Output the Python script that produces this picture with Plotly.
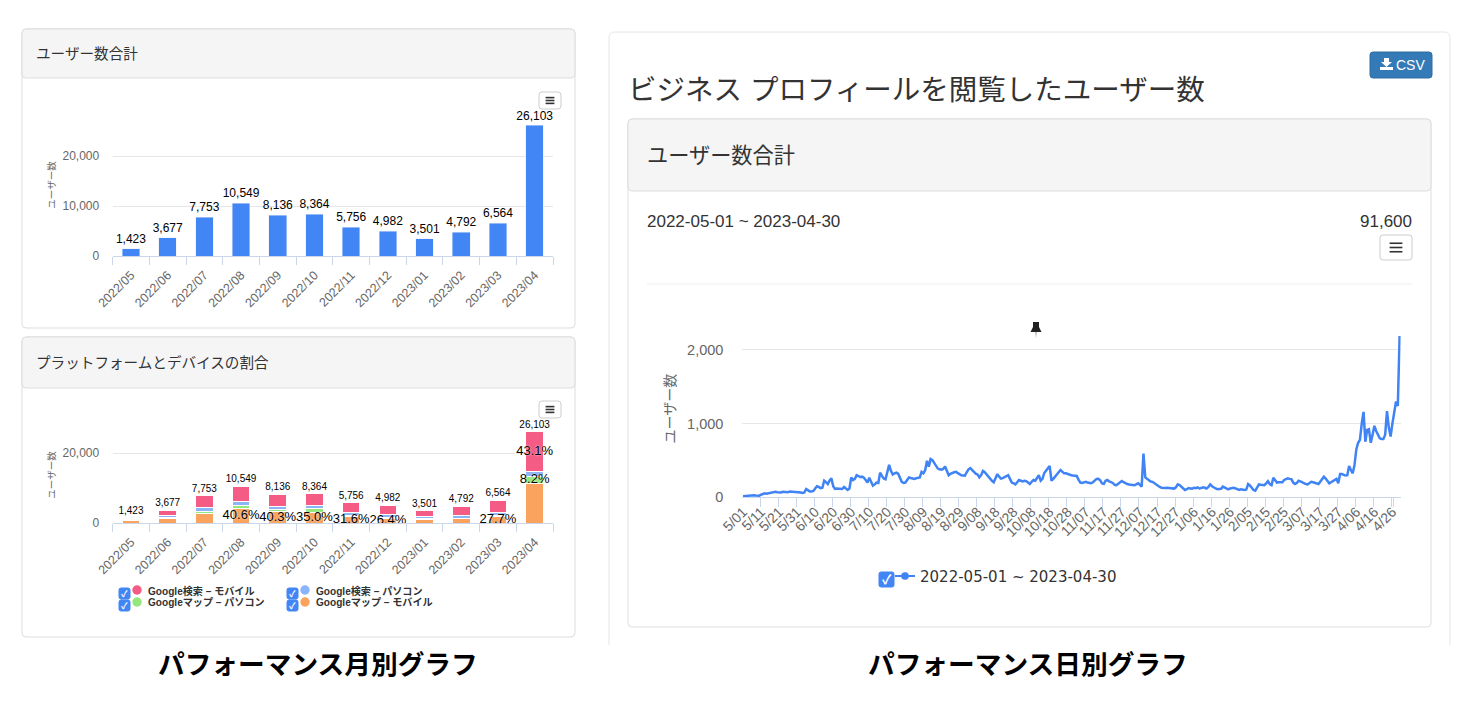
import pandas as pd
import plotly.graph_objects as go

W, H = 1478, 701
FONT = "Liberation Sans, Noto Sans CJK JP, sans-serif"
BLUE = "#4285f4"

months = ["2022/05", "2022/06", "2022/07", "2022/08", "2022/09", "2022/10",
          "2022/11", "2022/12", "2023/01", "2023/02", "2023/03", "2023/04"]
totals = [1423, 3677, 7753, 10549, 8136, 8364, 5756, 4982, 3501, 4792, 6564, 26103]
search_mobile = [450, 1550, 3300, 4500, 3300, 3300, 2700, 2650, 1700, 2600, 3600, 11250]
search_pc = [250, 550, 1100, 1100, 880, 900, 900, 700, 500, 800, 820, 1500]
maps_pc = [100, 150, 600, 666, 677, 1237, 337, 317, 300, 242, 326, 2140]
maps_mobile = [623, 1427, 2753, 4283, 3279, 2927, 1819, 1315, 1001, 1150, 1818, 11213]
maps_mobile_pct = ["", "", "", "40.6%", "40.3%", "35.0%", "31.6%", "26.4%", "", "", "27.7%", ""]
maps_pc_pct = [""] * 11 + ["8.2%"]
search_mobile_pct = [""] * 11 + ["43.1%"]

daily_users = [
    15, 18, 20, 22, 25, 22, 28, 24, 20, 22,
    35, 45, 55, 50, 55, 60, 58, 70, 75, 68,
    62, 65, 75, 70, 72, 70, 80, 78, 72, 70,
    78, 72, 65, 60, 65, 113, 90, 80, 78, 85,
    120, 150, 140, 125, 130, 225, 205, 180, 230, 257,
    150, 113, 118, 115, 110, 113, 140, 120, 100, 120,
    270, 235, 250, 300, 285, 275, 280, 265, 235, 200,
    265, 215, 158, 175, 200, 195, 335, 290, 255, 245,
    350, 440, 360, 310, 325, 335, 320, 260, 210, 195,
    200, 235, 270, 262, 255, 250, 258, 265, 270, 345,
    325, 370, 495, 415, 520, 505, 460, 415, 390, 380,
    375, 385, 420, 360, 300, 320, 335, 340, 345, 335,
    315, 300, 295, 295, 340, 380, 395, 370, 335, 320,
    310, 270, 300, 357, 340, 310, 270, 250, 225, 205,
    250, 315, 280, 255, 260, 270, 290, 300, 250, 200,
    190, 175, 205, 235, 225, 215, 225, 220, 200, 180,
    210, 235, 225, 265, 300, 225, 250, 330, 370, 395,
    425, 225, 250, 285, 310, 340, 370, 340, 325, 325,
    315, 300, 300, 295, 290, 290, 240, 200, 195, 200,
    210, 200, 195, 190, 205, 225, 250, 252, 230, 190,
    180, 225, 235, 215, 205, 195, 170, 165, 185, 205,
    220, 205, 190, 180, 175, 170, 160, 165, 175, 190,
    170, 145, 595, 270, 250, 230, 215, 210, 190, 175,
    160, 140, 130, 125, 125, 128, 125, 122, 120, 118,
    135, 175, 165, 140, 115, 100, 110, 125, 120, 118,
    130, 125, 135, 120, 125, 135, 130, 120, 140, 175,
    150, 130, 120, 110, 108, 115, 145, 130, 112, 108,
    120, 125, 130, 120, 105, 100, 110, 105, 98, 105,
    180, 160, 130, 100, 90, 130, 175, 170, 165, 165,
    190, 220, 180, 165, 265, 225, 200, 205, 210, 205,
    235, 245, 258, 250, 247, 200, 180, 195, 225, 215,
    200, 190, 180, 175, 195, 210, 205, 195, 185, 180,
    210, 250, 280, 255, 225, 190, 205, 220, 235, 250,
    190, 315, 315, 300, 295, 300, 425, 370, 325, 440,
    650, 740, 780, 1000, 1160, 755, 915, 925, 740, 850,
    970, 900, 840, 800, 790, 790, 850, 1170, 950, 825,
    1000, 1140, 1300, 1240, 2190,
]
days = [f"{d.month}/{d.day:02d}" for d in pd.date_range("2022-05-01", "2023-04-30")]
day_ticks = days[::10]


def px(x):
    return x / W


def py(y):
    return 1 - y / H


def rrect(x0, y0, x1, y1, r, fill="white", line="#dddddd", lw=1, layer="below"):
    p = (f"M {px(x0 + r)} {py(y0)} L {px(x1 - r)} {py(y0)} Q {px(x1)} {py(y0)} {px(x1)} {py(y0 + r)} "
         f"L {px(x1)} {py(y1 - r)} Q {px(x1)} {py(y1)} {px(x1 - r)} {py(y1)} "
         f"L {px(x0 + r)} {py(y1)} Q {px(x0)} {py(y1)} {px(x0)} {py(y1 - r)} "
         f"L {px(x0)} {py(y0 + r)} Q {px(x0)} {py(y0)} {px(x0 + r)} {py(y0)} Z")
    return dict(type="path", xref="paper", yref="paper", path=p, fillcolor=fill,
                line=dict(color=line, width=lw), layer=layer)


def hline(x0, x1, y, color, w=1, layer="below"):
    return dict(type="line", xref="paper", yref="paper", x0=px(x0), x1=px(x1), y0=py(y), y1=py(y),
                line=dict(color=color, width=w), layer=layer)


def poly(pts, fill, layer="above"):
    d = "M " + " L ".join(f"{px(a)} {py(b)}" for a, b in pts) + " Z"
    return dict(type="path", xref="paper", yref="paper", path=d, fillcolor=fill,
                line=dict(width=0), layer=layer)


def circle(cx, cy, r, fill):
    return dict(type="circle", xref="paper", yref="paper", x0=px(cx - r), x1=px(cx + r),
                y0=py(cy + r), y1=py(cy - r), fillcolor=fill, line=dict(width=0), layer="above")


def label(x, y, s, size, color="#333333", anchor="left", bold=False, family=FONT):
    return dict(xref="paper", yref="paper", x=px(x), y=py(y), text=f"<b>{s}</b>" if bold else s,
                showarrow=False, xanchor=anchor, yanchor="middle",
                font=dict(size=size, color=color, family=family), borderpad=0, borderwidth=0)


def checkbox(x, y, s):
    return rrect(x, y, x + s, y + s, 2, fill=BLUE, line=BLUE, layer="above")


def hamburger(x0, y0, x1, y1):
    cx, cy = (x0 + x1) / 2, (y0 + y1) / 2
    hw = (x1 - x0) * 0.2
    gap = (y1 - y0) * 0.17
    out = [rrect(x0, y0, x1, y1, 3, fill="white", line="#cccccc", layer="above")]
    for k in (-1, 0, 1):
        out.append(hline(cx - hw, cx + hw, cy + k * gap, "#333333", 1.6, layer="above"))
    return out


fig = go.Figure()

# ---- monthly total ----
fig.add_trace(go.Bar(x=months, y=totals, width=0.48, name="ユーザー数", marker_color=BLUE,
                     xaxis="x", yaxis="y", showlegend=False))
fig.add_trace(go.Scatter(x=months, y=totals, mode="markers+text", text=[f"{v:,}" for v in totals],
                         marker=dict(size=3, color="rgba(0,0,0,0)"),
                         textposition="top center", textfont=dict(size=12, color="#000000", family=FONT),
                         xaxis="x", yaxis="y", showlegend=False, hoverinfo="skip", cliponaxis=False))

# ---- monthly stacked ----
stack = [("Googleマップ – モバイル", maps_mobile, "#f9a35e", maps_mobile_pct),
         ("Googleマップ – パソコン", maps_pc, "#93e87b", maps_pc_pct),
         ("Google検索 – パソコン", search_pc, "#8cb4f8", [""] * 12),
         ("Google検索 – モバイル", search_mobile, "#f45c85", search_mobile_pct)]
base = [0] * 12
pct_layers = []
for name, vals, col, pct in stack:
    fig.add_trace(go.Bar(x=months, y=vals, width=0.48, name=name,
                         marker=dict(color=col, line=dict(color="white", width=1)),
                         xaxis="x2", yaxis="y2", showlegend=False))
    pct_layers.append(([b + v / 2 for b, v in zip(base, vals)], pct))
    base = [b + v for b, v in zip(base, vals)]
for mids, pct in pct_layers:
    fig.add_trace(go.Scatter(x=months, y=mids, mode="text", text=pct, textposition="middle center",
                             textfont=dict(size=13, color="#000000", family=FONT, shadow="0 0 2px #ffffff"),
                             xaxis="x2", yaxis="y2", showlegend=False, hoverinfo="skip", cliponaxis=False))
fig.add_trace(go.Scatter(x=months, y=totals, mode="markers+text", text=[f"{v:,}" for v in totals],
                         marker=dict(size=1, color="rgba(0,0,0,0)"),
                         textposition="top center", textfont=dict(size=10, color="#000000", family=FONT),
                         xaxis="x2", yaxis="y2", showlegend=False, hoverinfo="skip", cliponaxis=False))

# ---- daily ----
fig.add_trace(go.Scatter(x=days, y=daily_users, mode="lines", name="2022-05-01 ~ 2023-04-30",
                         line=dict(color="#3f83f5", width=2.5), xaxis="x3", yaxis="y3", showlegend=False,
                         cliponaxis=False))


def x_axis(x0, x1, y_anchor, size, ticklen, n, standoff=0):
    return dict(domain=[px(x0), px(x1)], anchor=y_anchor, type="category", showgrid=False, zeroline=False,
                showline=True, linecolor="#ccd6eb", linewidth=1, ticks="outside", tickson="boundaries",
                ticklen=ticklen, tickcolor="#ccd6eb", tickangle=-45, range=[-0.5, n - 0.5],
                ticklabelstandoff=standoff,
                tickfont=dict(size=size, color="#666666", family=FONT))


def y_axis(bottom, top, ymax, dtick, x_anchor, size, ticklen, title, tsize, standoff):
    return dict(domain=[py(bottom), py(top)], anchor=x_anchor, range=[0, ymax], dtick=dtick, tick0=0,
                showgrid=True, gridcolor="#e6e6e6", gridwidth=1, zeroline=False, showline=False,
                ticks="outside", ticklen=ticklen, tickcolor="rgba(0,0,0,0)", tickformat=",d",
                tickfont=dict(size=size, color="#666666", family=FONT),
                title=dict(text=title, standoff=standoff, font=dict(size=tsize, color="#666666", family=FONT)))


shapes = []
ann = []

# left cards
for top, bottom, head, title in [(29, 328, 78, "ユーザー数合計"), (337, 637, 388, "プラットフォームとデバイスの割合")]:
    shapes.append(rrect(22, top, 575, bottom, 4))
    shapes.append(rrect(22, top, 575, head, 4, fill="#f5f5f5"))
    ann.append(label(36, (top + head) / 2, title, 14.6))
shapes += hamburger(539, 92, 561, 109)
shapes += hamburger(539, 401, 561, 418)

# right outer card (open at the bottom)
shapes.append(dict(type="path", xref="paper", yref="paper",
                   path=(f"M {px(609)} {py(645)} L {px(609)} {py(38)} Q {px(609)} {py(32)} {px(615)} {py(32)} "
                         f"L {px(1444)} {py(32)} Q {px(1450)} {py(32)} {px(1450)} {py(38)} L {px(1450)} {py(645)}"),
                   line=dict(color="#e6e6e6", width=1), layer="below"))
# CSV button
shapes.append(rrect(1370, 52, 1432, 78, 3, fill="#337ab7", line="#2e6da4", layer="above"))
shapes.append(poly([(1384, 58), (1389, 58), (1389, 62), (1392, 62), (1386.5, 67), (1381, 62), (1384, 62)], "white"))
shapes.append(poly([(1380, 67), (1393, 67), (1393, 70), (1380, 70)], "white"))
ann.append(label(1396, 65, "CSV", 14, "white"))
ann.append(label(628, 90, "ビジネス プロフィールを閲覧したユーザー数", 28.5, "#333333"))

# right inner card
shapes.append(rrect(628, 119, 1431, 627, 4))
shapes.append(rrect(628, 119, 1431, 191, 4, fill="#f5f5f5"))
ann.append(label(647, 155, "ユーザー数合計", 21.2))
ann.append(label(647, 222, "2022-05-01 ~ 2023-04-30", 17))
ann.append(label(1412, 222, "91,600", 17, anchor="right"))
shapes += hamburger(1380, 235, 1412, 260)
shapes.append(hline(647, 1412, 284, "#eeeeee"))

# pin
shapes.append(poly([(1033, 322), (1039, 322), (1039, 327), (1041.5, 332), (1030.5, 332), (1033, 327)], "#222222"))
shapes.append(poly([(1035.3, 332), (1036.7, 332), (1036, 338)], "#999999"))

# monthly legend
for cb, cir, tx, row, name, col in [(119, 137, 148, 591, stack[3][0], stack[3][2]),
                                    (287, 305, 316, 591, stack[2][0], stack[2][2]),
                                    (119, 137, 148, 603, stack[1][0], stack[1][2]),
                                    (287, 305, 316, 603, stack[0][0], stack[0][2])]:
    shapes.append(checkbox(cb, row - 3, 11))
    ann.append(label(cb + 5.5, row + 2.5, "✓", 9, "white", anchor="center", bold=True))
    shapes.append(circle(cir, row - 1, 4.7, col))
    ann.append(label(tx, row - 0.5, name, 10.1, "#333333", bold=True))

# daily legend
shapes.append(checkbox(879, 572, 15))
ann.append(label(886.5, 579.5, "✓", 13, "white", anchor="center", bold=True))
shapes.append(hline(895, 915, 576, "#3f83f5", 2, layer="above"))
shapes.append(circle(905, 576, 3.8, "#3f83f5"))
ann.append(label(920, 576.5, "2022-05-01 ~ 2023-04-30", 15, "#333333", family="DejaVu Sans"))

# captions
ann.append(label(317.5, 665, "パフォーマンス月別グラフ", 26.7, "#000000", anchor="center", bold=True))
ann.append(label(1027.5, 665, "パフォーマンス日別グラフ", 26.7, "#000000", anchor="center", bold=True))

x3 = x_axis(742.3, 1400.7, "y3", 14, 9, 365)
x3.update(tickmode="array", tickvals=day_ticks, ticktext=day_ticks, categoryorder="array", categoryarray=days,
          range=[-0.4, 364.6])

fig.update_layout(
    width=W, height=H, margin=dict(l=0, r=0, t=0, b=0, autoexpand=False), autosize=False,
    paper_bgcolor="white", plot_bgcolor="rgba(0,0,0,0)", separators=".,",
    barmode="stack", showlegend=False, font=dict(family=FONT),
    xaxis=x_axis(112.6, 553, "y", 12.5, 8, 12, 6),
    yaxis=y_axis(256, 114, 28400, 10000, "x", 12, 10, "ユーザー数", 9.5, 5),
    xaxis2=x_axis(112.6, 553, "y2", 12.5, 8, 12, 6),
    yaxis2=y_axis(523, 427, 27429, 20000, "x2", 12, 10, "ユーザー数", 9.5, 5),
    xaxis3=x3,
    yaxis3=y_axis(497.3, 320, 2407, 1000, "x3", 14.5, 15, "ユーザー数", 14, 8),
    shapes=shapes, annotations=ann,
)

assert len(daily_users) == len(days)
fig.write_html("out.html", config={"displayModeBar": False},
               post_script="document.body.style.margin='0';document.body.style.overflow='hidden';")
